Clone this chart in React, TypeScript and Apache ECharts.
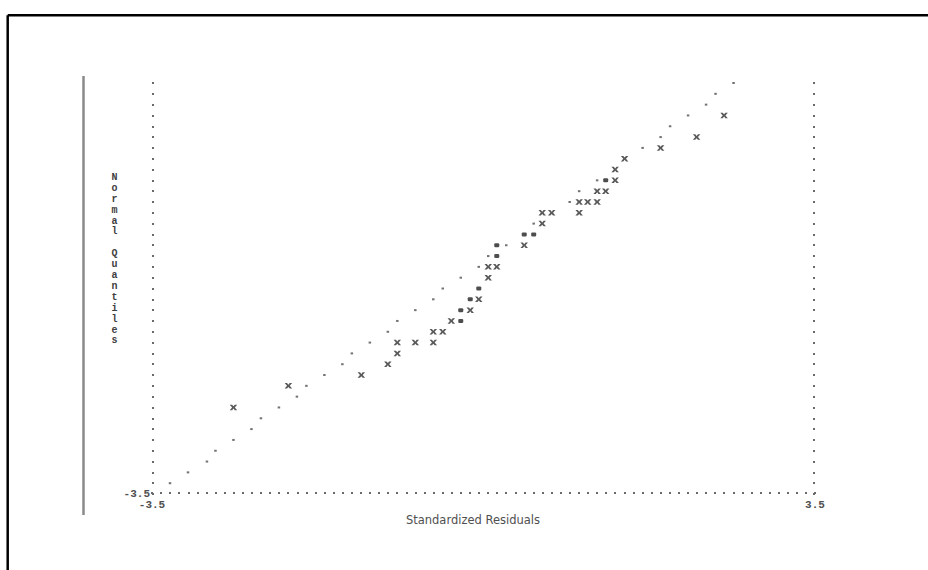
import React, { useEffect, useRef } from "react";
import * as echarts from "echarts";

// ---- text ----
const xTitle = "Standardized Residuals";
const yTitle = "Normal Quantiles";
const xTickValues = [-3.5, 3.5];
const yTickValues = [-3.5];
const xMin = -3.5;
const xMax = 3.5;
const yMin = -3.5;
const yMax = 2.58;

// ---- reference line points (".") ----
const refX = [-3.31, -3.12, -2.92, -2.83, -2.64, -2.45, -2.35, -2.16, -1.97, -1.87, -1.68, -1.49, -1.39, -1.2, -1.01, -0.91, -0.72, -0.53, -0.43, -0.24, -0.05, 0.05, 0.24, 0.53, 0.91, 1.01, 1.2, 1.68, 1.87, 1.97, 2.16, 2.35, 2.45, 2.64];
const refY = [-3.34, -3.18, -3.02, -2.86, -2.7, -2.54, -2.38, -2.22, -2.06, -1.9, -1.74, -1.58, -1.42, -1.26, -1.1, -0.94, -0.78, -0.62, -0.46, -0.3, -0.14, 0.02, 0.18, 0.5, 0.82, 0.98, 1.14, 1.62, 1.78, 1.94, 2.1, 2.26, 2.42, 2.58];

// ---- observed residuals ("x") ----
const obsX = [-2.64, -2.06, -1.29, -1.01, -0.91, -0.91, -0.72, -0.53, -0.53, -0.43, -0.34, -0.14, -0.05, 0.05, 0.05, 0.14, 0.43, 0.62, 0.62, 0.72, 1.01, 1.01, 1.1, 1.2, 1.2, 1.29, 1.39, 1.39, 1.49, 1.87, 2.25, 2.54];
const obsY = [-2.22, -1.9, -1.74, -1.58, -1.42, -1.26, -1.26, -1.26, -1.1, -1.1, -0.94, -0.78, -0.62, -0.3, -0.14, -0.14, 0.18, 0.5, 0.66, 0.66, 0.66, 0.82, 0.82, 0.82, 0.98, 0.98, 1.14, 1.3, 1.46, 1.62, 1.78, 2.1];

// ---- coinciding points ("*") ----
const bothX = [-0.24, -0.24, -0.14, -0.05, 0.14, 0.14, 0.43, 0.53, 1.29];
const bothY = [-0.94, -0.78, -0.62, -0.46, 0.02, 0.18, 0.34, 0.34, 1.14];

// character cells of the text plot frame
const xCells = Array.from({ length: 74 }, (_, i) => String(i));
const yCells = Array.from({ length: 39 }, (_, i) => String(i));

const xMarkPath =
  "path://M0,0L3.2,0L5,2.4L6.8,0L10,0L6.8,4L10,8L6.8,8L5,5.6L3.2,8L0,8L3.2,4Z";

const pairs = (xs: number[], ys: number[]) => xs.map((x, i) => [x, ys[i]]);

export default function App() {
  const ref = useRef<HTMLDivElement>(null);

  useEffect(() => {
    if (!ref.current) return;
    const chart = echarts.init(ref.current, null, { renderer: "svg" });
    const dotTick = {
      show: true,
      interval: 0,
      inside: true,
      length: 2,
      lineStyle: { color: "#6a6a6a", width: 2 },
    };
    const monoLabel = {
      fontFamily: "Liberation Mono",
      fontWeight: "bold" as const,
      fontSize: 11,
      lineHeight: 9,
      color: "#505050",
    };
    chart.setOption({
      animation: false,
      backgroundColor: "#ffffff",
      grid: { left: 152, right: 113, top: 83, bottom: 76, containLabel: false },
      xAxis: [
        {
          type: "value",
          min: xMin,
          max: xMax,
          axisLine: { show: false },
          axisTick: { show: false },
          splitLine: { show: false },
          axisLabel: {
            ...monoLabel,
            customValues: xTickValues,
            margin: 6,
            formatter: (v: number) => v.toFixed(1),
          },
        },
        {
          type: "category",
          data: xCells,
          boundaryGap: false,
          position: "bottom",
          axisLine: { show: false },
          axisTick: dotTick,
          axisLabel: { show: false },
          splitLine: { show: false },
        },
      ],
      yAxis: [
        {
          type: "value",
          min: yMin,
          max: yMax,
          axisLine: { show: false },
          axisTick: { show: false },
          splitLine: { show: false },
          axisLabel: {
            ...monoLabel,
            customValues: yTickValues,
            margin: 2,
            padding: [0, 0, 2, 0],
            formatter: (v: number) => v.toFixed(1),
          },
        },
        {
          type: "category",
          data: yCells,
          boundaryGap: false,
          position: "left",
          axisLine: { show: false },
          axisTick: dotTick,
          axisLabel: { show: false },
          splitLine: { show: false },
        },
        {
          type: "category",
          data: yCells,
          boundaryGap: false,
          position: "right",
          axisLine: { show: false },
          axisTick: dotTick,
          axisLabel: { show: false },
          splitLine: { show: false },
        },
      ],
      series: [
        {
          name: "Reference",
          type: "scatter",
          xAxisIndex: 0,
          yAxisIndex: 0,
          symbol: "rect",
          symbolSize: [2.5, 2],
          itemStyle: { color: "#505050" },
          silent: true,
          data: pairs(refX, refY),
        },
        {
          name: "Observed",
          type: "scatter",
          xAxisIndex: 0,
          yAxisIndex: 0,
          symbol: xMarkPath,
          symbolSize: [7.5, 5.5],
          itemStyle: { color: "#303030" },
          silent: true,
          data: pairs(obsX, obsY),
        },
        {
          name: "Coinciding",
          type: "scatter",
          xAxisIndex: 0,
          yAxisIndex: 0,
          symbol: "roundRect",
          symbolSize: [5, 4],
          itemStyle: { color: "#202020" },
          silent: true,
          data: pairs(bothX, bothY),
        },
      ],
      graphic: [
        {
          type: "line",
          shape: { x1: 7.7, y1: 15.3, x2: 928, y2: 15.3 },
          style: { stroke: "#000000", lineWidth: 2.5 },
        },
        {
          type: "line",
          shape: { x1: 7.7, y1: 15.3, x2: 7.7, y2: 570 },
          style: { stroke: "#000000", lineWidth: 2.5 },
        },
        {
          type: "line",
          shape: { x1: 83.5, y1: 76, x2: 83.5, y2: 515 },
          style: { stroke: "#8a8a8a", lineWidth: 2.5 },
        },
        {
          type: "text",
          style: {
            text: xTitle,
            x: 473,
            y: 520,
            align: "center",
            verticalAlign: "middle",
            fontFamily: "DejaVu Sans",
            fontSize: 11.5,
            fill: "#505050",
          },
        },
        {
          type: "text",
          style: {
            text: yTitle.split("").join("\n"),
            x: 114.5,
            y: 172,
            align: "center",
            verticalAlign: "top",
            lineHeight: 10.9,
            fontFamily: "Liberation Mono",
            fontWeight: "bold",
            fontSize: 10,
            fill: "#404040",
          },
        },
      ],
    });
    return () => chart.dispose();
  }, []);

  return (
    <div
      ref={ref}
      style={{ position: "fixed", left: 0, top: 0, width: 928, height: 570 }}
    />
  );
}
